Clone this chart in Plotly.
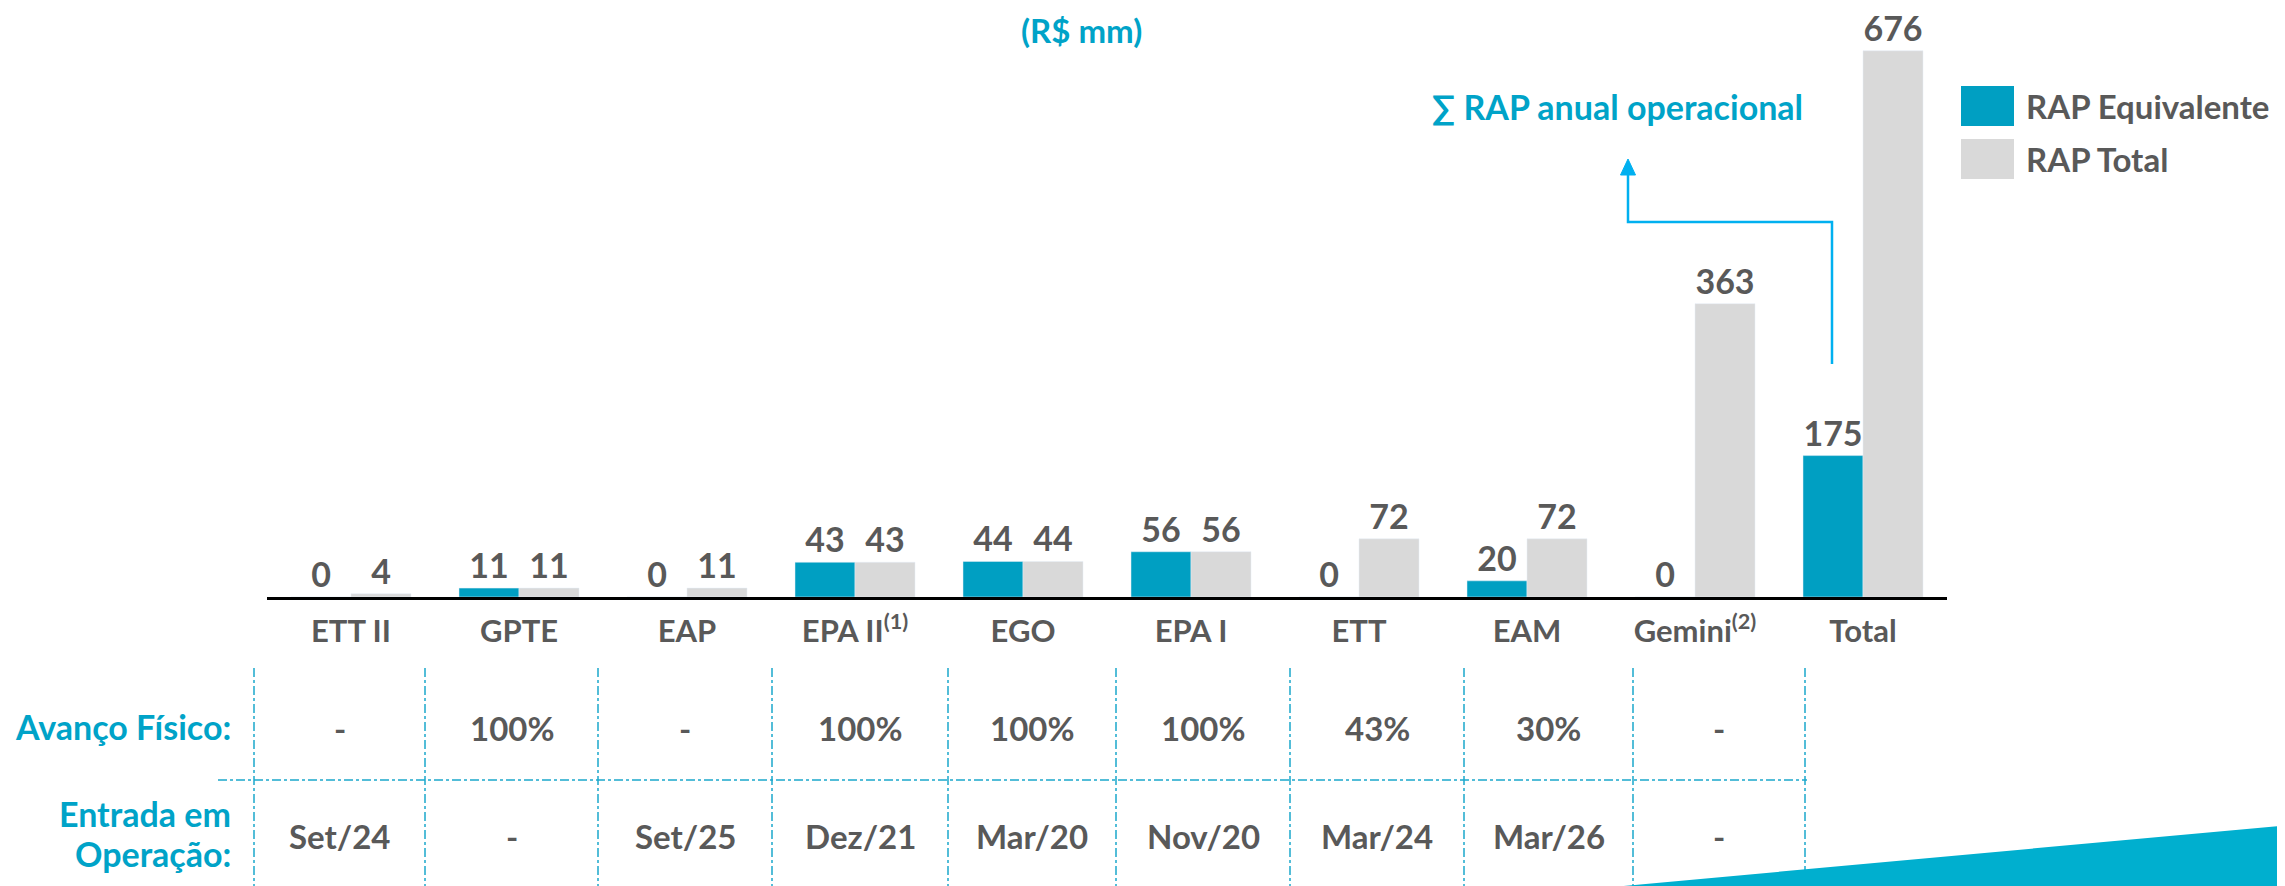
import plotly.graph_objects as go

# ---------------- data ----------------
categories = ["ETT II", "GPTE", "EAP", "EPA II<sup>(1)</sup>", "EGO", "EPA I", "ETT", "EAM",
              "Gemini<sup>(2)</sup>", "Total"]
rap_equivalente = [0, 11, 0, 43, 44, 56, 0, 20, 0, 175]
rap_total = [4, 11, 11, 43, 44, 56, 72, 72, 363, 676]

avanco_fisico = ["-", "100%", "-", "100%", "100%", "100%", "43%", "30%", "-"]
entrada_operacao = ["Set/24", "-", "Set/25", "Dez/21", "Mar/20", "Nov/20", "Mar/24", "Mar/26", "-"]

series_names = ["RAP Equivalente", "RAP Total"]
title_text = "(R$ mm)"
arrow_text = "∑ RAP anual operacional"
row_labels = ["Avanço Físico:", "Entrada em", "Operação:"]

# ---------------- style / layout ----------------
PAGE_W, PAGE_H = 2285, 886
OFF = 8  # default body margin of the html page
W, H = PAGE_W - OFF, PAGE_H - OFF
L, R, T, B = 267 - OFF, 338, 30 - OFF, 289
PW, PH = W - L - R, H - T - B
Y_MAX = 701.7

TEAL = "#009FC2"
GRAY = "#D9D9D9"
TXT = "#595959"
TEAL_TXT = "#00A3C8"
LINE_TEAL = "#1BA8CB"
ARROW = "#00B0F0"
WEDGE = "#00AFCF"
FONT = "Lato"


def px(xp):
    # page pixel x -> paper coordinate
    return (xp - OFF - L) / PW


def py(yp):
    # page pixel y -> paper coordinate
    return (H - B - (yp - OFF)) / PH


fig = go.Figure()
for vals, name, color in [(rap_equivalente, series_names[0], TEAL), (rap_total, series_names[1], GRAY)]:
    fig.add_trace(go.Bar(
        x=categories, y=vals, name=name, marker_color=color,
        text=[str(v) for v in vals], textposition="outside",
        textfont=dict(family=FONT, size=34, color=TXT, weight="bold"),
        cliponaxis=False, constraintext="none", showlegend=False,
    ))

shapes = []
annotations = []

# title
annotations.append(dict(x=px(1081), y=py(30), xref="paper", yref="paper", text=title_text,
                        showarrow=False, xanchor="center", yanchor="middle",
                        font=dict(family=FONT, size=33, color=TEAL_TXT, weight="bold")))
# arrow annotation text
annotations.append(dict(x=px(1430), y=py(106), xref="paper", yref="paper", text=arrow_text,
                        showarrow=False, xanchor="left", yanchor="middle",
                        font=dict(family=FONT, size=34, color=TEAL_TXT, weight="bold")))

# arrow path
shapes.append(dict(type="path", xref="paper", yref="paper",
                   path=f"M {px(1832)},{py(364)} L {px(1832)},{py(222)} L {px(1628)},{py(222)} L {px(1628)},{py(174)}",
                   line=dict(color=ARROW, width=2.5)))
shapes.append(dict(type="path", xref="paper", yref="paper",
                   path=f"M {px(1620.5)},{py(175)} L {px(1635.5)},{py(175)} L {px(1628)},{py(159)} Z",
                   fillcolor=ARROW, line=dict(color=ARROW, width=1)))

# legend (manual)
legend_items = [(TEAL, 86, 126, series_names[0]), (GRAY, 139, 179, series_names[1])]
for color, y0, y1, name in legend_items:
    shapes.append(dict(type="rect", xref="paper", yref="paper",
                       x0=px(1961), x1=px(2014), y0=py(y1), y1=py(y0),
                       fillcolor=color, line=dict(width=0)))
    annotations.append(dict(x=px(2024), y=py((y0 + y1) / 2), xref="paper", yref="paper",
                            text=name, showarrow=False, xanchor="left", yanchor="middle",
                            font=dict(family=FONT, size=33, color=TXT, weight="bold")))

# table grid
vlines = [254, 425, 598, 772, 948, 1116, 1290, 1464, 1633, 1805]
for xv in vlines:
    shapes.append(dict(type="line", xref="paper", yref="paper",
                       x0=px(xv), x1=px(xv), y0=py(668), y1=py(890),
                       line=dict(color=LINE_TEAL, width=1.5, dash="dashdot")))
shapes.append(dict(type="line", xref="paper", yref="paper",
                   x0=px(218), x1=px(1807), y0=py(780), y1=py(780),
                   line=dict(color=LINE_TEAL, width=1.5, dash="dashdot")))

# row labels
for text, yv in [(row_labels[0], 727), (row_labels[1], 813), (row_labels[2], 853)]:
    annotations.append(dict(x=px(233), y=py(yv), xref="paper", yref="paper", text=text,
                            showarrow=False, xanchor="right", yanchor="middle",
                            font=dict(family=FONT, size=34, color=TEAL_TXT, weight="bold")))

# table values
centers = [(vlines[i] + vlines[i + 1]) / 2 for i in range(len(vlines) - 1)]
for c, a, e in zip(centers, avanco_fisico, entrada_operacao):
    annotations.append(dict(x=px(c), y=py(728), xref="paper", yref="paper", text=a,
                            showarrow=False, xanchor="center", yanchor="middle",
                            font=dict(family=FONT, size=33, color=TXT, weight="bold")))
    annotations.append(dict(x=px(c), y=py(836), xref="paper", yref="paper", text=e,
                            showarrow=False, xanchor="center", yanchor="middle",
                            font=dict(family=FONT, size=33, color=TXT, weight="bold")))

# decorative wedge
shapes.append(dict(type="path", xref="paper", yref="paper",
                   path=f"M {px(1580)},{py(890)} L {px(2290)},{py(825)} L {px(2290)},{py(890)} Z",
                   fillcolor=WEDGE, line=dict(width=0)))

fig.update_layout(
    width=W, height=H, autosize=False,
    margin=dict(l=L, r=R, t=T, b=B, pad=0),
    paper_bgcolor="white", plot_bgcolor="white",
    barmode="group", bargap=1 - 120 / 168, bargroupgap=0,
    shapes=shapes, annotations=annotations,
    showlegend=False,
    xaxis=dict(showline=True, linecolor="black", linewidth=2.5, showgrid=False,
               ticks="outside", ticklen=5, tickcolor="rgba(0,0,0,0)",
               tickfont=dict(family=FONT, size=31, color=TXT, weight="bold"),
               zeroline=False, fixedrange=True),
    yaxis=dict(range=[0, Y_MAX], visible=False, showgrid=False, zeroline=False, fixedrange=True),
)

fig.write_html("out.html")
